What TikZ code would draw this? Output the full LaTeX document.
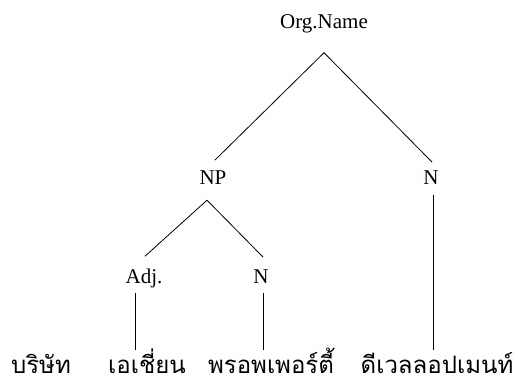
\documentclass[tikz,border=0pt]{standalone}
\usepackage{fontspec}
\setmainfont{Liberation Serif}
\newfontfamily\thaifont[Script=Thai]{Loma}

\begin{document}
\begin{tikzpicture}[x=1pt,y=-1pt,
	cat/.style={font=\fontsize{21}{25}\selectfont, inner sep=0pt, anchor=base},
	word/.style={font=\thaifont\fontsize{24}{28}\selectfont, inner sep=0pt, anchor=base},
	branch/.style={line width=0.8pt}]
	\useasboundingbox (0,0) rectangle (518,385);
	
	% categories
	\node[cat] (orgname) at (324,29) {Org.Name};
	\node[cat] (np) at (213,184) {NP};
	\node[cat] (nright) at (431,184) {N};
	\node[cat] (adj) at (144,283) {Adj.};
	\node[cat] (nleft) at (261,283) {N};
	
	% words
	\node[word] (borisat) at (41,373) {บริษัท};
	\node[word] (asian) at (147,373) {เอเชี่ยน};
	\node[word] (property) at (271,373) {พรอพเพอร์ตี้};
	\node[word] (development) at (437,373) {ดีเวลลอปเมนท์};
	
	\coordinate (rootfork) at ([shift={(0,19)}]orgname.south);
	\coordinate (npfork) at ([shift={(-6,16)}]np.south);
	\coordinate (adjfoot) at (135,350);
	\coordinate (nleftfoot) at (263,350);
	\coordinate (nrightfoot) at (433,350);
	
	\draw[branch] (rootfork) -- ([shift={(2,-10)}]np.north);
	\draw[branch] (rootfork) -- ([shift={(1,-8)}]nright.north);
	\draw[branch] (npfork) -- ([shift={(1,-12)}]adj.north);
	\draw[branch] (npfork) -- ([shift={(2,-12)}]nleft.north);
	
	\draw[branch] ([shift={(-9,5)}]adj.south) -- (adjfoot);
	\draw[branch] ([shift={(2,10)}]nleft.south) -- (nleftfoot);
	\draw[branch] ([shift={(2,11)}]nright.south) -- (nrightfoot);
\end{tikzpicture}
\end{document}
